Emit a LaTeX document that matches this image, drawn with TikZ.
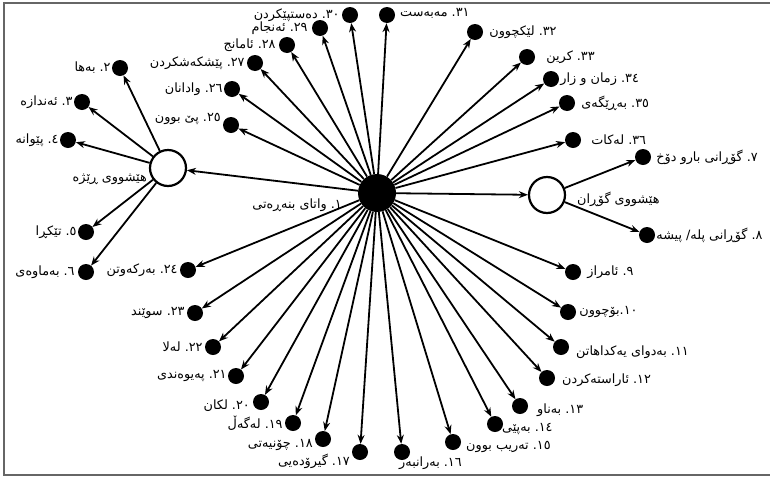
\documentclass[tikz,border=0pt]{standalone}
\usepackage{fontspec}
\newfontfamily\kufont[Script=Arabic]{DejaVu Sans}
\TeXXeTstate=1
\usetikzlibrary{arrows.meta,positioning}
\newcommand{\kn}[1]{#1.\ }

\begin{document}
\begin{tikzpicture}[x=1pt, y=-1pt,
  hub/.style={circle, fill=black, minimum size=38pt, inner sep=0pt},
  cluster/.style={circle, draw, line width=2.2pt, fill=white, minimum size=36pt, inner sep=0pt},
  leaf/.style={circle, fill=black, minimum size=16pt, inner sep=0pt},
  lbl/.style={font=\kufont\fontsize{12.8}{14}\selectfont, inner sep=1pt},
  arr/.style={-{Stealth[length=9pt,width=7pt]}, line width=1.8pt}
]
  \useasboundingbox (0,0) rectangle (770,477);
  \draw[black!60, line width=1.8pt] (770,3) -- (4,3) -- (4,475) -- (770,475);

  % centre and the two clusters
  \node[hub]     (hub)    at (377,193) {};
  \node[lbl, anchor=east] (t1) at (343,205) {\beginR\kn{١}واتای بنەڕەتی\endR};
  \node[cluster] (rate)   at (168,168) {};
  \node[lbl, anchor=east] (trate) at (148,179) {\beginR هێشووی ڕێژە\endR};
  \node[cluster] (change) at (547,195) {};
  \node[lbl, anchor=west] (tchange) at (576,199) {\beginR هێشووی گۆڕان\endR};

  % rate cluster
  \node[leaf] (n2) at (120,68)  {};
  \node[lbl, left=0pt of n2] (t2) {\beginR\kn{٢}بەها\endR};
  \node[leaf] (n3) at (82,102)  {};
  \node[lbl, left=0pt of n3] (t3) {\beginR\kn{٣}ئەندازە\endR};
  \node[leaf] (n4) at (68,140)  {};
  \node[lbl, left=0pt of n4] (t4) {\beginR\kn{٤}پێوانە\endR};
  \node[leaf] (n5) at (86,232)  {};
  \node[lbl, left=0pt of n5] (t5) {\beginR\kn{٥}تێکڕا\endR};
  \node[leaf] (n6) at (86,272)  {};
  \node[lbl, left=2pt of n6] (t6) {\beginR\kn{٦}بەماوەی\endR};

  % change cluster
  \node[leaf] (n7) at (643,157) {};
  \node[lbl, right=4pt of n7] (t7) {\beginR\kn{٧}گۆڕانی بارو دۆخ\endR};
  \node[leaf] (n8) at (647,235) {};
  \node[lbl, right=0pt of n8] (t8) {\beginR\kn{٨}گۆڕانی پلە/ پیشە\endR};

  % right and bottom
  \node[leaf] (n9)  at (573,272) {};
  \node[lbl, right=5pt of n9] (t9) {\beginR\kn{٩}ئامراز\endR};
  \node[leaf] (n10) at (568,312) {};
  \node[lbl, right=2pt of n10] (t10) {\beginR ١٠.بۆچوون\endR};
  \node[leaf] (n11) at (561,347) {};
  \node[lbl, anchor=west] (t11) at (575,352) {\beginR\kn{١١}بەدوای یەکداهاتن\endR};
  \node[leaf] (n12) at (547,378) {};
  \node[lbl, anchor=west] (t12) at (561,380) {\beginR\kn{١٢}ئاراستەکردن\endR};
  \node[leaf] (n13) at (520,406) {};
  \node[lbl, anchor=west] (t13) at (536,410) {\beginR\kn{١٣}بەناو\endR};
  \node[leaf] (n14) at (495,424) {};
  \node[lbl, anchor=west] (t14) at (501,429) {\beginR\kn{١٤}بەپێی\endR};
  \node[leaf] (n15) at (453,442) {};
  \node[lbl, anchor=west] (t15) at (465,447) {\beginR\kn{١٥}تەریب بوون\endR};
  \node[leaf] (n16) at (402,452) {};
  \node[lbl, anchor=north west] (t16) at (398,456) {\beginR\kn{١٦}بەرانبەر\endR};
  \node[leaf] (n17) at (360,452) {};
  \node[lbl, anchor=east] (t17) at (351,461) {\beginR\kn{١٧}گیرۆدەیی\endR};
  \node[leaf] (n18) at (323,439) {};
  \node[lbl, anchor=east] (t18) at (314,445) {\beginR\kn{١٨}چۆنیەتی\endR};
  \node[leaf] (n19) at (293,423) {};
  \node[lbl, left=1pt of n19] (t19) {\beginR\kn{١٩}لەگەڵ\endR};
  \node[leaf] (n20) at (261,402) {};
  \node[lbl, anchor=east] (t20) at (251,406) {\beginR\kn{٢٠}لکان\endR};
  \node[leaf] (n21) at (236,376) {};
  \node[lbl, left=0pt of n21] (t21) {\beginR\kn{٢١}پەیوەندی\endR};
  \node[leaf] (n22) at (213,347) {};
  \node[lbl, left=1pt of n22] (t22) {\beginR\kn{٢٢}لەلا\endR};
  \node[leaf] (n23) at (195,313) {};
  \node[lbl, left=1pt of n23] (t23) {\beginR\kn{٢٣}سوێند\endR};
  \node[leaf] (n24) at (188,270) {};
  \node[lbl, left=1pt of n24] (t24) {\beginR\kn{٢٤}بەرکەوتن\endR};

  % upper left and top
  \node[leaf] (n25) at (231,125) {};
  \node[lbl, anchor=east] (t25) at (222,119) {\beginR\kn{٢٥}پێ بوون\endR};
  \node[leaf] (n26) at (232,89)  {};
  \node[lbl, left=0pt of n26] (t26) {\beginR\kn{٢٦}وادانان\endR};
  \node[leaf] (n27) at (255,63)  {};
  \node[lbl, left=1pt of n27] (t27) {\beginR\kn{٢٧}پێشکەشکردن\endR};
  \node[leaf] (n28) at (287,45)  {};
  \node[lbl, left=2pt of n28] (t28) {\beginR\kn{٢٨}ئامانج\endR};
  \node[leaf] (n29) at (320,28)  {};
  \node[lbl, left=3pt of n29] (t29) {\beginR\kn{٢٩}ئەنجام\endR};
  \node[leaf] (n30) at (350,15)  {};
  \node[lbl, left=1pt of n30] (t30) {\beginR\kn{٣٠}دەستپێکردن\endR};
  \node[leaf] (n31) at (387,15)  {};
  \node[lbl, anchor=west] (t31) at (399,13) {\beginR\kn{٣١}مەبەست\endR};
  \node[leaf] (n32) at (475,32)  {};
  \node[lbl, right=5pt of n32] (t32) {\beginR\kn{٣٢}لێکچوون\endR};
  \node[leaf] (n33) at (527,57)  {};
  \node[lbl, right=10pt of n33] (t33) {\beginR\kn{٣٣}کرین\endR};
  \node[leaf] (n34) at (551,79)  {};
  \node[lbl, right=0pt of n34] (t34) {\beginR\kn{٣٤}زمان و زار\endR};
  \node[leaf] (n35) at (567,103) {};
  \node[lbl, right=5pt of n35] (t35) {\beginR\kn{٣٥}بەڕێگەی\endR};
  \node[leaf] (n36) at (573,140) {};
  \node[lbl, right=9pt of n36] (t36) {\beginR\kn{٣٦}لەکات\endR};

  % connectors
  \foreach \n in {rate,change,n9,n10,n11,n12,n13,n14,n15,n16,n17,n18,n19,n20,n21,n22,n23,n24,
                  n25,n26,n27,n28,n29,n30,n31,n32,n33,n34,n35,n36}
    \draw[arr] (hub) -- (\n);
  \foreach \n in {n2,n3,n4,n5,n6}
    \draw[arr] (rate) -- (\n);
  \draw[arr] (change) -- (n7);
  \draw[arr] (change) -- (n8);
\end{tikzpicture}
\end{document}
